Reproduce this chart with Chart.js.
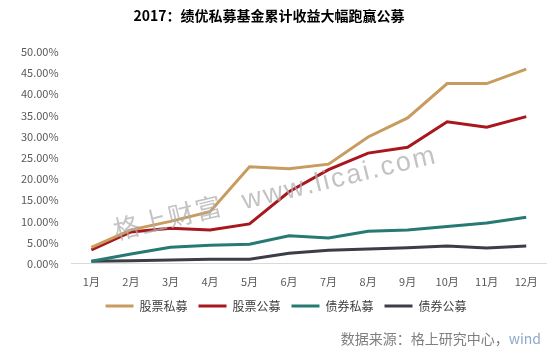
<!DOCTYPE html>
<html><head><meta charset="utf-8">
<script src="https://cdn.jsdelivr.net/npm/chart.js@4.4.0/dist/chart.umd.min.js"></script>
<style>html,body{margin:0;padding:0;background:#fff;}#wrap{width:556px;height:355px;}</style>
</head><body><div id="wrap"><canvas id="c" width="556" height="355"></canvas></div>
<script>
const categories = ['1月','2月','3月','4月','5月','6月','7月','8月','9月','10月','11月','12月'];
const stockPrivate = [3.9, 8.0, 10.0, 12.3, 22.9, 22.4, 23.5, 29.9, 34.4, 42.5, 42.5, 45.9];
const stockPublic  = [3.3, 7.5, 8.4, 8.0, 9.4, 17.0, 22.2, 26.1, 27.5, 33.5, 32.2, 34.7];
const bondPrivate  = [0.6, 2.3, 3.9, 4.4, 4.6, 6.6, 6.1, 7.7, 8.0, 8.8, 9.6, 11.0];
const bondPublic   = [0.6, 0.7, 0.9, 1.1, 1.1, 2.5, 3.2, 3.5, 3.8, 4.2, 3.7, 4.2];
const seriesNames = ['股票私募','股票公募','债券私募','债券公募'];
const yTicks = [0,5,10,15,20,25,30,35,40,45,50];

const colors = ['#C89B5E','#A8161E','#267A73','#3B3E47'];
const FONT = "'Noto Sans CJK SC','Noto Sans',sans-serif";

const watermark = {
  id:'watermark',
  afterDatasetsDraw(chart){
    const ctx = chart.ctx;
    ctx.save();
    ctx.translate(116, 240);
    ctx.rotate(-13.5*Math.PI/180);
    ctx.fillStyle = 'rgba(175,175,175,0.75)';
    ctx.textBaseline = 'alphabetic';
    ctx.font = "26px 'Noto Sans CJK SC', sans-serif";
    const cjk = '格上财富';
    let x = 0;
    for (const ch of cjk){ ctx.fillText(ch, x, 0); x += 28; }
    ctx.font = "27px 'Liberation Sans', sans-serif";
    const lat = 'www.licai.com';
    x += 20;
    for (const ch of lat){ ctx.fillText(ch, x, 0); x += ctx.measureText(ch).width + 2.2; }
    ctx.restore();
  }
};
const source = {
  id:'source',
  afterDraw(chart){
    const ctx = chart.ctx;
    ctx.save();
    ctx.font = "14px " + FONT;
    ctx.textBaseline = 'middle';
    ctx.textAlign = 'right';
    const w2 = 'wind';
    ctx.fillStyle = '#8ea9c9';
    ctx.fillText(w2, 541, 339);
    const ww = ctx.measureText(w2).width;
    ctx.fillStyle = '#7f7f7f';
    ctx.fillText('数据来源：格上研究中心，', 541-ww, 339);
    ctx.restore();
  }
};
const shiftBlocks = {
  id:'shiftBlocks',
  afterLayout(chart){
    const lg = chart.legend;
    if (lg){ lg.left += 9; lg.right += 9; lg.top -= 10; lg.bottom -= 10; }
    const tb = chart.titleBlock;
    if (tb){ tb.left -= 8; tb.right -= 8; }
  }
};

new Chart(document.getElementById('c'), {
  type:'line',
  data:{
    labels:categories,
    datasets:[stockPrivate,stockPublic,bondPrivate,bondPublic].map((d,i)=>({
      label:seriesNames[i], data:d, borderColor:colors[i], backgroundColor:colors[i],
      borderWidth:3, pointRadius:0, tension:0, fill:false
    }))
  },
  options:{
    responsive:false, animation:false,
    layout:{padding:{left:8,right:10,top:0,bottom:23}},
    plugins:{
      title:{display:true,text:'2017：绩优私募基金累计收益大幅跑赢公募',font:{family:FONT,size:14,weight:'bold'},color:'#000',padding:{top:7,bottom:28}},
      legend:{position:'bottom',labels:{usePointStyle:true,pointStyle:'line',pointStyleWidth:28,font:{family:FONT,size:12},color:'#404040',padding:11}},
      tooltip:{enabled:false}
    },
    scales:{
      x:{offset:true,grid:{display:false,drawTicks:false},border:{display:true,color:'#d9d9d9'},ticks:{font:{family:FONT,size:11},color:'#595959',padding:11}},
      y:{min:0,max:50,afterBuildTicks:(s)=>{s.ticks=yTicks.map(v=>({value:v}));},
         grid:{display:false,drawTicks:false},border:{display:false},
         ticks:{font:{family:FONT,size:11},color:'#595959',padding:13,callback:(v)=>v.toFixed(2)+'%'}}
    }
  },
  plugins:[watermark,source,shiftBlocks]
});
</script></body></html>
